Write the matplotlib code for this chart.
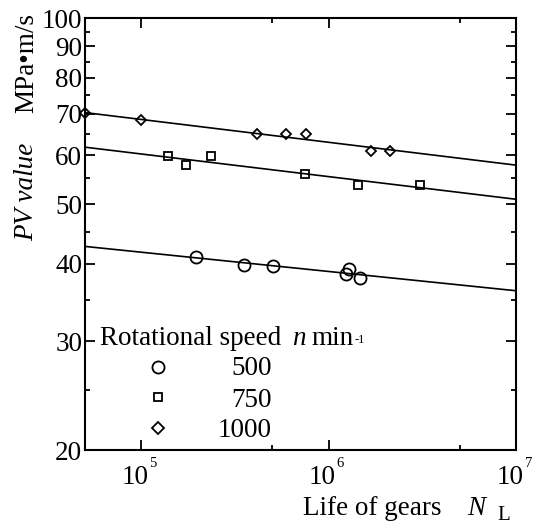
import math
import matplotlib
matplotlib.use("Agg")
import matplotlib.pyplot as plt
from matplotlib.ticker import FixedLocator, NullFormatter, FuncFormatter
from matplotlib.lines import Line2D
from matplotlib.transforms import offset_copy

plt.rcParams["font.family"] = ["Liberation Serif", "DejaVu Serif"]

# Gear life N_L against PV value for each rotational speed
life_500 = [1.96e5, 3.54e5, 5.02e5, 1.28e6, 1.23e6, 1.47e6]
pv_500 = [41.1, 39.9, 39.7, 39.3, 38.6, 38.0]
life_750 = [1.39e5, 1.73e5, 2.34e5, 7.46e5, 1.43e6, 3.08e6]
pv_750 = [59.8, 57.8, 59.8, 55.9, 53.7, 53.7]
life_1000 = [5.0e4, 1.0e5, 4.13e5, 5.95e5, 7.58e5, 1.69e6, 2.12e6]
pv_1000 = [70.3, 68.4, 64.9, 64.9, 64.9, 61.0, 61.0]

# Fitted power-law lines, given at both ends of the life range
fit_life = [5e4, 1e7]
fit_500 = [42.7, 36.2]
fit_750 = [61.8, 50.9]
fit_1000 = [70.3, 57.8]

speeds = ["500", "750", "1000"]
y_ticks = [20, 30, 40, 50, 60, 70, 80, 90, 100]
y_minor = [25, 35, 45, 55, 65, 75, 85, 95]
x_ticks = [1e5, 1e6, 1e7]
x_minor = [5e5, 5e6]

FS = 19.5
W, H = 533, 525


def fx(px):
    return px / W


def fy(py):
    return 1 - py / H


fig = plt.figure(figsize=(W / 100, H / 100), dpi=100)
ax = fig.add_axes([fx(85), fy(450), 431 / W, 432 / H])
ax.set_xscale("log")
ax.set_yscale("log")
ax.set_xlim(5e4, 1e7)
ax.set_ylim(20, 100)

line_kw = dict(color="black", lw=1.2, zorder=2)
ax.plot(fit_life, fit_500, **line_kw)
ax.plot(fit_life, fit_750, **line_kw)
ax.plot(fit_life, fit_1000, **line_kw)

mk = dict(ls="none", mfc="none", mec="black", mew=1.3, zorder=3, clip_on=False)
ax.plot(life_500, pv_500, marker="o", ms=8.7, **mk)
ax.plot(life_750, pv_750, marker="s", ms=6.0, **mk)
ax.plot(life_1000, pv_1000, marker="D", ms=5.6, **mk)

for s in ax.spines.values():
    s.set_linewidth(1.5)

ax.yaxis.set_major_locator(FixedLocator(y_ticks))
ax.yaxis.set_minor_locator(FixedLocator(y_minor))
ax.yaxis.set_major_formatter(FuncFormatter(lambda v, p: f"{v:g}"))
ax.yaxis.set_minor_formatter(NullFormatter())

ax.xaxis.set_major_locator(FixedLocator(x_ticks))
ax.xaxis.set_minor_locator(FixedLocator(x_minor))
ax.xaxis.set_major_formatter(NullFormatter())
ax.xaxis.set_minor_formatter(NullFormatter())

ax.tick_params(which="both", direction="in", top=True, right=True,
               width=1.3, labelsize=FS, color="black")
ax.tick_params(which="major", length=7)
ax.tick_params(which="minor", length=3.6)
ax.tick_params(axis="y", pad=2)

# decade labels: "10" with a small raised exponent
xt = ax.get_xaxis_transform()
for d in x_ticks:
    e = round(math.log10(d))
    shift = 1 if d >= 1e7 else 0
    ax.text(d, 0, "10", ha="right", va="baseline", fontsize=FS, clip_on=False,
            transform=offset_copy(xt, fig, x=7 + shift, y=-34, units="dots"))
    ax.text(d, 0, str(e), ha="left", va="baseline", fontsize=10.5, clip_on=False,
            transform=offset_copy(xt, fig, x=8 + shift, y=-17, units="dots"))

# axis titles
fig.text(fx(33), fy(13), "MPa\u2022m/s", rotation=90, rotation_mode="anchor",
         ha="right", va="baseline", fontsize=FS)
fig.text(fx(33), fy(143), "PV value", rotation=90, rotation_mode="anchor",
         ha="right", va="baseline", fontsize=FS, style="italic")

fig.text(fx(303), fy(515), "Life of gears", ha="left", va="baseline", fontsize=FS)
fig.text(fx(467), fy(515), "N", ha="left", va="baseline", fontsize=FS, style="italic")
fig.text(fx(497), fy(520), "L", ha="left", va="baseline", fontsize=15)

# legend block
fig.text(fx(100), fy(345), "Rotational speed", ha="left", va="baseline", fontsize=FS)
fig.text(fx(292), fy(345), "n", ha="left", va="baseline", fontsize=FS, style="italic")
fig.text(fx(311), fy(345), "min", ha="left", va="baseline", fontsize=FS)
fig.text(fx(355), fy(343), "-1", ha="left", va="baseline", fontsize=9)

leg_marks = [("o", 8.7), ("s", 5.5), ("D", 6.0)]
leg_y = [367, 397, 428]
leg_base = [375, 406.7, 437]
for (m, ms), yc, yb, lab in zip(leg_marks, leg_y, leg_base, speeds):
    fig.add_artist(Line2D([fx(158)], [fy(yc)], transform=fig.transFigure,
                          marker=m, ms=ms, mfc="none", mec="black", mew=1.3, ls="none"))
    fig.text(fx(272), fy(yb), lab, ha="right", va="baseline", fontsize=FS)

fig.savefig("out.png", dpi=100)
